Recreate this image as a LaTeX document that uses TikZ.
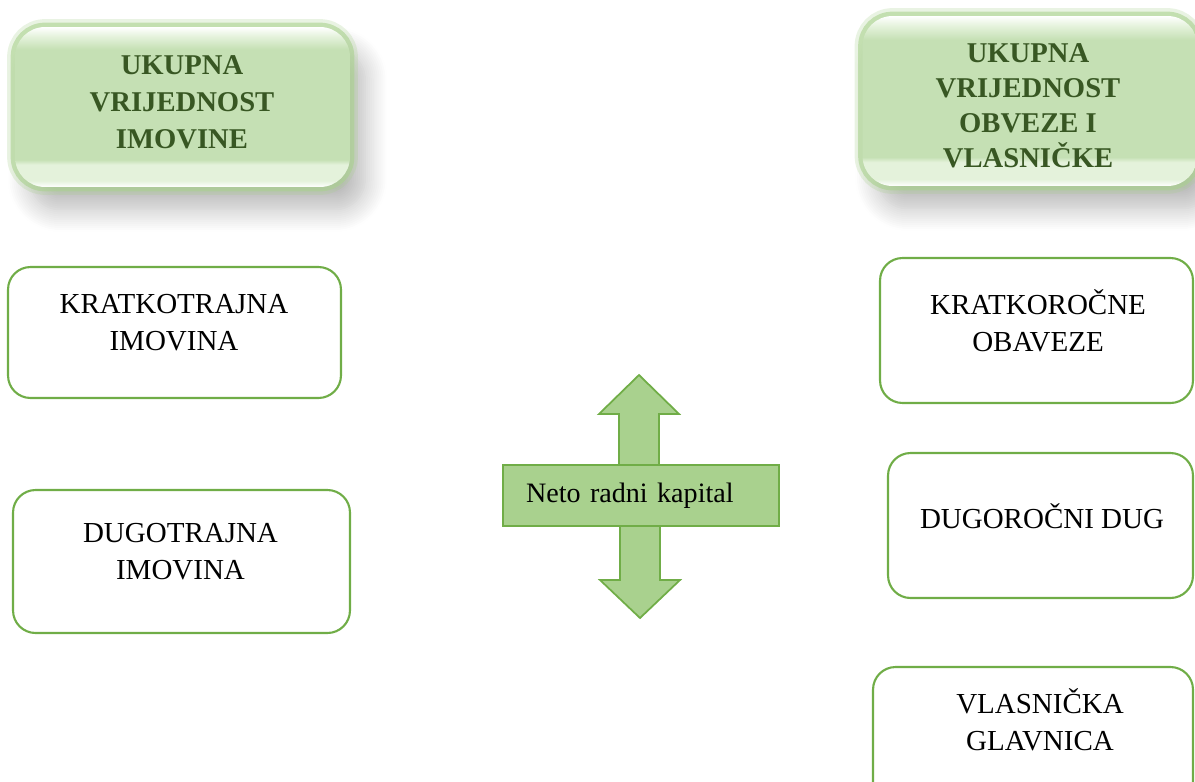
\documentclass[tikz,border=0pt]{standalone}
\usepackage{fontspec}
\setmainfont{Liberation Serif}
\usetikzlibrary{shadows.blur}
\definecolor{boxgreen}{HTML}{70AD47}
\definecolor{arrowgreen}{HTML}{A9D18E}
\definecolor{titlegreen}{HTML}{C5E0B4}
\definecolor{titlelight}{HTML}{E4F2DB}
\definecolor{titletext}{HTML}{385723}
\pgfdeclareverticalshading{gloss}{100bp}{color(0bp)=(white); color(25bp)=(white); color(27bp)=(titlelight); color(32bp)=(titlelight); color(33.5bp)=(titlegreen); color(68bp)=(titlegreen); color(72bp)=(titlelight); color(75bp)=(white); color(100bp)=(white)}

\begin{document}
\begin{tikzpicture}
            [x=0.02cm,y=-0.02cm,
             box/.style={draw=boxgreen,line width=1.2pt,rounded corners=0.45cm,fill=white},
             boxtext/.style={align=center,font=\fontsize{16.5}{21}\selectfont},
             title/.style={rounded corners=0.6cm,shading=gloss,
                blur shadow={shadow xshift=0.3cm,shadow yshift=-0.45cm,shadow blur radius=0.45cm,shadow blur steps=12,shadow opacity=28},
                preaction={draw=arrowgreen,line width=9pt,opacity=.25},
                preaction={draw=arrowgreen,line width=5pt,opacity=.6}},
             titletext/.style={align=center,text=titletext,font=\bfseries\fontsize{16.3}{21}\selectfont},
             bigarrow/.style={draw=boxgreen,fill=arrowgreen,line width=1pt}]
            \useasboundingbox (0,0) rectangle (1195,781);

            % totals
            \node[title,minimum width=6.7cm,minimum height=3.2cm] (UI) at (182.5,107) {};
            \node[titletext] at (182,102) {UKUPNA\\VRIJEDNOST\\IMOVINE};
            \node[title,minimum width=6.7cm,minimum height=3.4cm] (UO) at (1030,101) {};
            \node[titletext,font=\bfseries\fontsize{16.3}{20}\selectfont] at (1028,106) {UKUPNA\\VRIJEDNOST\\OBVEZE I\\VLASNIČKE};

            % assets
            \node[box,minimum width=6.66cm,minimum height=2.62cm] (KI) at (174.5,332.5) {};
            \node[boxtext] at (174,323) {KRATKOTRAJNA\\IMOVINA};
            \node[box,minimum width=6.74cm,minimum height=2.86cm] (DI) at (181.5,561.5) {};
            \node[boxtext] at (180.5,552) {DUGOTRAJNA\\IMOVINA};

            % liabilities and equity
            \node[box,minimum width=6.26cm,minimum height=2.9cm] (KO) at (1036.5,330.5) {};
            \node[boxtext] at (1038,321) {KRATKOROČNE\\OBAVEZE};
            \node[box,minimum width=6.1cm,minimum height=2.9cm] (DD) at (1040.5,525.5) {};
            \node[boxtext] at (1042,516) {DUGOROČNI DUG};
            \node[box,minimum width=6.4cm,minimum height=2.9cm] (VG) at (1033,739.5) {};
            \node[boxtext] at (1040,720) {VLASNIČKA\\GLAVNICA};

            % net working capital
            \draw[bigarrow] (619,470) -- (619,414) -- (599,414) -- (639,375) -- (679,414) -- (659,414) -- (659,470);
            \draw[bigarrow] (620,520) -- (620,580) -- (600,580) -- (640,618) -- (680,580) -- (660,580) -- (660,520);
            \node[bigarrow,rectangle,minimum height=1.22cm,text width=4.6cm,inner xsep=0.46cm,align=left,
                  font=\fontsize{16}{19}\selectfont] (NRK) at (641,495.5) {Neto radni kapital};
        \end{tikzpicture}
\end{document}
